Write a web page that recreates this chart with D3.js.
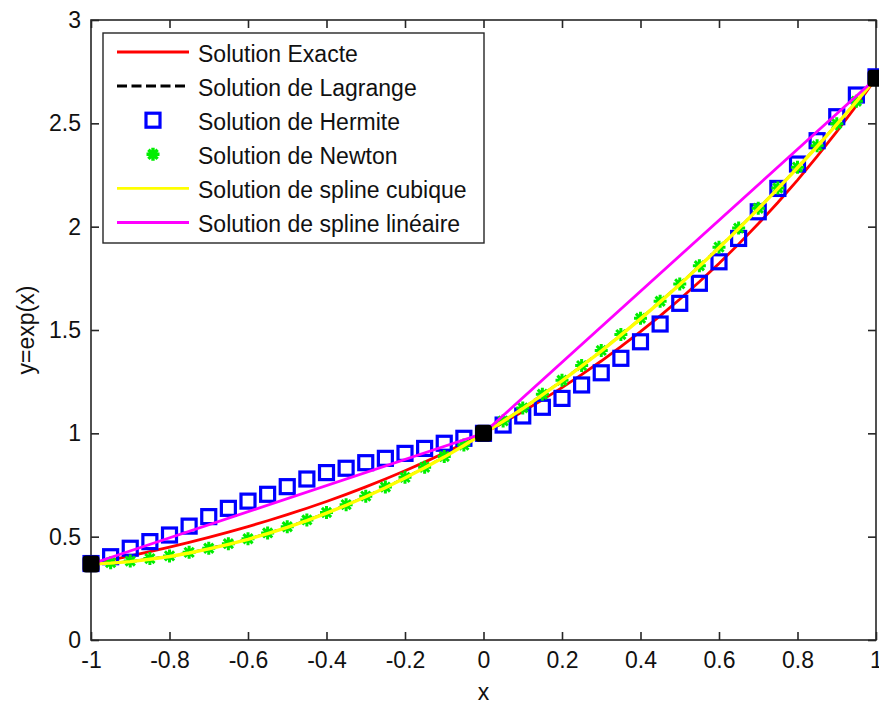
<!DOCTYPE html>
<html><head><meta charset="utf-8">
<script src="https://cdn.jsdelivr.net/npm/d3@7"></script>
<style>
body{margin:0;background:#fff}
text{font-family:"Liberation Sans",Arial,Helvetica,sans-serif;fill:#111}
</style>
</head><body>
<svg id="c" width="879" height="706"></svg>
<script>
// ---------- data ----------
const xGrid = [-1,-0.95,-0.9,-0.85,-0.8,-0.75,-0.7,-0.65,-0.6,-0.55,-0.5,-0.45,-0.4,-0.35,-0.3,-0.25,-0.2,-0.15,-0.1,-0.05,
  0,0.05,0.1,0.15,0.2,0.25,0.3,0.35,0.4,0.45,0.5,0.55,0.6,0.65,0.7,0.75,0.8,0.85,0.9,0.95,1];
const exacte = [0.3679,0.3867,0.4066,0.4274,0.4493,0.4724,0.4966,0.5220,0.5488,0.5769,0.6065,0.6376,0.6703,0.7047,0.7408,0.7788,0.8187,0.8607,0.9048,0.9512,
  1.0000,1.0513,1.1052,1.1618,1.2214,1.2840,1.3499,1.4191,1.4918,1.5683,1.6487,1.7333,1.8221,1.9155,2.0138,2.1170,2.2255,2.3396,2.4596,2.5857,2.7183];
const lagrange = [0.368,0.374,0.382,0.394,0.407,0.424,0.444,0.466,0.490,0.518,0.548,0.581,0.617,0.655,0.696,0.740,0.787,0.836,0.888,0.943,
  1.000,1.060,1.123,1.189,1.257,1.328,1.401,1.478,1.557,1.639,1.723,1.811,1.901,1.993,2.089,2.187,2.288,2.391,2.498,2.607,2.718];
const hermite = [0.370,0.403,0.444,0.476,0.508,0.551,0.597,0.637,0.672,0.705,0.742,0.779,0.810,0.831,0.858,0.879,0.903,0.927,0.952,0.976,
  1.000,1.040,1.084,1.126,1.169,1.234,1.293,1.363,1.443,1.529,1.629,1.726,1.830,1.943,2.072,2.185,2.303,2.416,2.532,2.637,2.725];
const newton = [0.368,0.374,0.382,0.394,0.407,0.424,0.444,0.466,0.490,0.518,0.548,0.581,0.617,0.655,0.696,0.740,0.787,0.836,0.888,0.943,
  1.000,1.060,1.123,1.189,1.257,1.328,1.401,1.478,1.557,1.639,1.723,1.811,1.901,1.993,2.089,2.187,2.288,2.391,2.498,2.607,2.718];
const splineCubique = [0.368,0.372,0.379,0.391,0.404,0.421,0.441,0.463,0.487,0.515,0.545,0.578,0.614,0.652,0.693,0.737,0.784,0.833,0.885,0.941,
  1.000,1.058,1.120,1.186,1.254,1.325,1.398,1.475,1.554,1.636,1.720,1.808,1.898,1.990,2.086,2.184,2.285,2.388,2.495,2.605,2.718];
const splineLinX = [-1,0,1];
const splineLinY = [0.3679,1.0000,2.7183];
const nodesX = [-1,0,1];
const nodesY = [0.3679,1.0000,2.7183];

const xTicks = [-1,-0.8,-0.6,-0.4,-0.2,0,0.2,0.4,0.6,0.8,1];
const xTickLabels = ["-1","-0.8","-0.6","-0.4","-0.2","0","0.2","0.4","0.6","0.8","1"];
const yTicks = [0,0.5,1,1.5,2,2.5,3];
const yTickLabels = ["0","0.5","1","1.5","2","2.5","3"];
const legendLabels = ["Solution Exacte","Solution de Lagrange","Solution de Hermite","Solution de Newton","Solution de spline cubique","Solution de spline linéaire"];
const xLabel = "x";
const yLabel = "y=exp(x)";

// ---------- layout ----------
const L = 91, R = 876, T = 20, B = 640;
const svg = d3.select("#c");
const x = d3.scaleLinear().domain([-1,1]).range([L,R]);
const y = d3.scaleLinear().domain([0,3]).range([B,T]);
const FS = 23;
const axisCol = "#262626";

// axes
const gx = svg.append("g").attr("transform",`translate(0,${B})`)
  .call(d3.axisBottom(x).tickValues(xTicks).tickSizeInner(-8).tickSizeOuter(0).tickPadding(12)
    .tickFormat((d,i)=>xTickLabels[i]));
const gxt = svg.append("g").attr("transform",`translate(0,${T})`)
  .call(d3.axisTop(x).tickValues(xTicks).tickSizeInner(-8).tickSizeOuter(0).tickFormat(""));
const gy = svg.append("g").attr("transform",`translate(${L},0)`)
  .call(d3.axisLeft(y).tickValues(yTicks).tickSizeInner(-8).tickSizeOuter(0).tickPadding(10)
    .tickFormat((d,i)=>yTickLabels[i]));
const gyr = svg.append("g").attr("transform",`translate(${R},0)`)
  .call(d3.axisRight(y).tickValues(yTicks).tickSizeInner(-8).tickSizeOuter(0).tickFormat(""));
[gx,gxt,gy,gyr].forEach(g=>{
  g.select(".domain").remove();
  g.selectAll(".tick line").attr("stroke",axisCol).attr("stroke-width",1.6);
  g.selectAll(".tick text").attr("font-size",FS).attr("font-family","Liberation Sans, Arial, sans-serif").attr("fill","#111");
});
svg.append("rect").attr("x",L).attr("y",T).attr("width",R-L).attr("height",B-T)
  .attr("fill","none").attr("stroke",axisCol).attr("stroke-width",1.6);

svg.append("text").attr("x",(L+R)/2).attr("y",700).attr("text-anchor","middle").attr("font-size",FS).text(xLabel);
svg.append("text").attr("transform",`translate(34,${(T+B)/2}) rotate(-90)`).attr("text-anchor","middle").attr("font-size",FS).text(yLabel);

// ---------- series ----------
const line = d3.line().x(d=>x(d[0])).y(d=>y(d[1]));
const zip = (a,b)=>a.map((v,i)=>[v,b[i]]);
const plot = svg.append("g");

const starPath = "M-6.5,0H6.5M0,-6.5V6.5M-4.6,-4.6L4.6,4.6M-4.6,4.6L4.6,-4.6";

function drawSeries(g, kind, data){
  if(kind==="red") g.append("path").attr("d",line(data)).attr("fill","none").attr("stroke","#ff0000").attr("stroke-width",2.8);
  if(kind==="lag") g.append("path").attr("d",line(data)).attr("fill","none").attr("stroke","#000").attr("stroke-width",1.8).attr("stroke-dasharray","10,5");
  if(kind==="herm") g.selectAll(null).data(data).enter().append("rect")
      .attr("x",d=>x(d[0])-7).attr("y",d=>y(d[1])-7).attr("width",14).attr("height",14)
      .attr("fill","none").attr("stroke","#0000ff").attr("stroke-width",3.2);
  if(kind==="newt") g.selectAll(null).data(data).enter().append("path")
      .attr("transform",d=>`translate(${x(d[0])},${y(d[1])})`).attr("d",starPath)
      .attr("stroke","#00ee00").attr("stroke-width",3).attr("fill","none");
  if(kind==="cub") g.append("path").attr("d",line(data)).attr("fill","none").attr("stroke","#ffff00").attr("stroke-width",3.4);
  if(kind==="lin") g.append("path").attr("d",line(data)).attr("fill","none").attr("stroke","#ff00ff").attr("stroke-width",2.8);
}
drawSeries(plot,"red",zip(xGrid,exacte));
drawSeries(plot,"lag",zip(xGrid,lagrange));
drawSeries(plot,"herm",zip(xGrid,hermite));
drawSeries(plot,"newt",zip(xGrid,newton));
drawSeries(plot,"cub",zip(xGrid,splineCubique));
drawSeries(plot,"lin",zip(splineLinX,splineLinY));
plot.selectAll(null).data(zip(nodesX,nodesY)).enter().append("rect")
  .attr("x",d=>x(d[0])-7.5).attr("y",d=>y(d[1])-7.5).attr("width",15).attr("height",15)
  .attr("rx",2.5).attr("fill","#000").attr("stroke","#000").attr("stroke-width",2);

// ---------- legend ----------
const lg = svg.append("g");
lg.append("rect").attr("x",103).attr("y",33).attr("width",381).attr("height",210)
  .attr("fill","#fff").attr("stroke",axisCol).attr("stroke-width",1.4);
const kinds = ["red","lag","herm","newt","cub","lin"];
const colors = {red:"#ff0000",lag:"#000",cub:"#ffff00",lin:"#ff00ff"};
kinds.forEach((k,i)=>{
  const by = 61.5 + i*34.1;
  const cy = by - 9.5;
  if(k==="herm"){
    lg.append("rect").attr("x",153-7).attr("y",cy-7).attr("width",14).attr("height",14)
      .attr("fill","none").attr("stroke","#0000ff").attr("stroke-width",3.2);
  } else if(k==="newt"){
    lg.append("path").attr("transform",`translate(153,${cy})`).attr("d",starPath)
      .attr("stroke","#00ee00").attr("stroke-width",3.4).attr("fill","none");
  } else {
    const p = lg.append("line").attr("x1",117).attr("x2",189).attr("y1",cy).attr("y2",cy)
      .attr("stroke",colors[k]).attr("stroke-width",k==="lag"?3:2.8);
    if(k==="lag") p.attr("stroke-dasharray","10,4.5");
  }
  lg.append("text").attr("x",198).attr("y",by).attr("font-size",FS).text(legendLabels[i]);
});
</script>
</body></html>
